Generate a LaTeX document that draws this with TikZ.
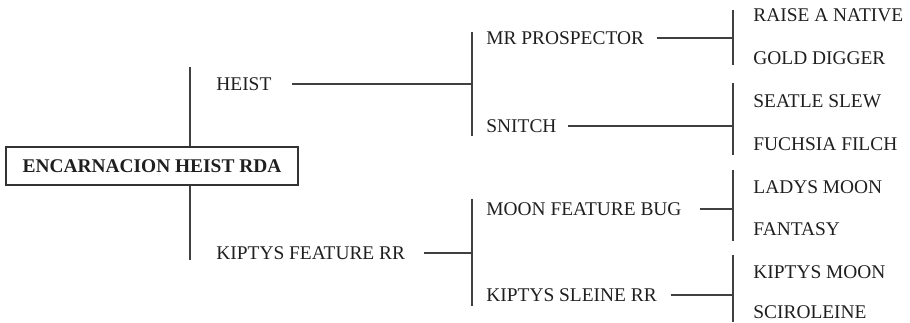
\documentclass[tikz,border=0pt]{standalone}
\usepackage{fontspec}
\setmainfont{Liberation Serif}
\usetikzlibrary{positioning}

\begin{document}
\begin{tikzpicture}[
                x=0.5pt, y=-0.5pt,
                lbl/.style={anchor=west, inner sep=0pt, font=\fontsize{9.7}{11}\selectfont, text=black!88},
                rootbox/.style={draw=black!80, line width=0.65pt, minimum width=146pt, minimum height=19pt, inner sep=0pt, font=\fontsize{9.7}{11}\selectfont\bfseries, text=black!88},
                ln/.style={draw=black!75, line width=0.6pt}
            ]
                \useasboundingbox (0,0) rectangle (910,322);

                \node[rootbox] (root) at (152,166) {ENCARNACION HEIST RDA};
                \node[lbl] (heist) at (216,84) {HEIST};
                \node[lbl] (kfr) at (216,253) {KIPTYS FEATURE RR};

                \node[lbl] (mrp) at (486,38) {MR PROSPECTOR};
                \node[lbl] (snitch) at (486,126) {SNITCH};
                \node[lbl] (mfb) at (486,209) {MOON FEATURE BUG};
                \node[lbl] (ksr) at (486,295) {KIPTYS SLEINE RR};

                \node[lbl] (ran) at (753,15.5) {RAISE A NATIVE};
                \node[lbl] (gd) at (753,58.3) {GOLD DIGGER};
                \node[lbl] (ss) at (753,101) {SEATLE SLEW};
                \node[lbl] (ff) at (753,144) {FUCHSIA FILCH};
                \node[lbl] (lm) at (753,186.7) {LADYS MOON};
                \node[lbl] (fan) at (753,229.5) {FANTASY};
                \node[lbl] (km) at (753,272.3) {KIPTYS MOON};
                \node[lbl] (sci) at (753,312) {SCIROLEINE};

                \coordinate (rtop) at (190,67);
                \coordinate (rbot) at (190,260);
                \coordinate (mtopA) at (472,32);
                \coordinate (mbotA) at (472,136);
                \coordinate (mtopB) at (472,199);
                \coordinate (mbotB) at (472,306);
                \coordinate (ltopA) at (733,10);
                \coordinate (lbotA) at (733,65);
                \coordinate (ltopB) at (733,83);
                \coordinate (lbotB) at (733,155);
                \coordinate (ltopC) at (733,170);
                \coordinate (lbotC) at (733,241);
                \coordinate (ltopD) at (733,255);
                \coordinate (lbotD) at (733,322);

                \draw[ln] (rtop) -- (rtop |- root.north);
                \draw[ln] (root.south -| rbot) -- (rbot);

                \draw[ln] (mtopA) -- (mbotA);
                \draw[ln] (mtopB) -- (mbotB);
                \draw[ln] ([xshift=10pt]heist.east) -- (heist.east -| mtopA);
                \draw[ln] ([xshift=9.5pt]kfr.east) -- (kfr.east -| mtopB);

                \draw[ln] (ltopA) -- (lbotA);
                \draw[ln] (ltopB) -- (lbotB);
                \draw[ln] (ltopC) -- (lbotC);
                \draw[ln] (ltopD) -- (lbotD);
                \draw[ln] ([xshift=6.5pt]mrp.east) -- (mrp.east -| ltopA);
                \draw[ln] ([xshift=5.5pt]snitch.east) -- (snitch.east -| ltopB);
                \draw[ln] ([xshift=9pt]mfb.east) -- (mfb.east -| ltopC);
                \draw[ln] ([xshift=7pt]ksr.east) -- (ksr.east -| ltopD);
            \end{tikzpicture}
\end{document}
